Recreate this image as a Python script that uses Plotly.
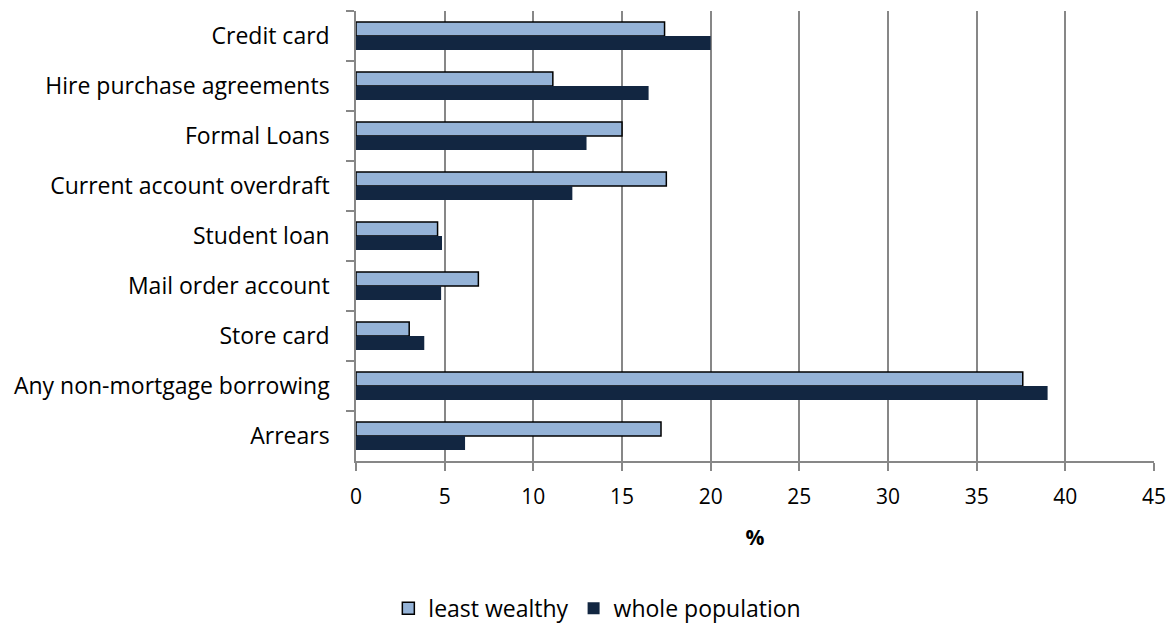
import plotly.graph_objects as go

categories = ["Credit card", "Hire purchase agreements", "Formal Loans",
              "Current account overdraft", "Student loan", "Mail order account",
              "Store card", "Any non-mortgage borrowing", "Arrears"]
least_wealthy = [17.4, 11.1, 15.0, 17.5, 4.6, 6.9, 3.0, 37.6, 17.2]
whole_population = [20.0, 16.5, 13.0, 12.2, 4.85, 4.8, 3.85, 39.0, 6.15]
x_ticks = [0, 5, 10, 15, 20, 25, 30, 35, 40, 45]

FONT = "Open Sans"
GRID = "#878787"

fig = go.Figure()
fig.add_trace(go.Bar(
    y=categories, x=least_wealthy, orientation="h", name="least wealthy",
    marker=dict(color="#95B3D7", line=dict(color="black", width=1.5)),
))
fig.add_trace(go.Bar(
    y=categories, x=whole_population, orientation="h", name="whole population",
    marker=dict(color="#122641", line=dict(width=0)),
))

# page body has an 8px margin, so the figure is 8px smaller than the window
fig.update_layout(
    width=1167, height=615,
    margin=dict(l=348, r=21, t=3, b=162, autoexpand=False),
    paper_bgcolor="white", plot_bgcolor="white",
    font=dict(family=FONT, size=22, color="black"),
    barmode="group", bargap=0.44, bargroupgap=0,
    legend=dict(orientation="h", xref="container", x=0.505, xanchor="center",
                yref="container", y=0.024, yanchor="middle",
                font=dict(size=23), itemwidth=30, traceorder="normal"),
)
fig.update_xaxes(
    range=[0, 45], tickvals=x_ticks, showgrid=True, gridcolor=GRID, gridwidth=1.5,
    showline=True, linecolor=GRID, linewidth=1.5, zeroline=False,
    ticks="outside", ticklen=8, tickcolor=GRID, tickwidth=1.5, ticklabelstandoff=8,
    tickfont=dict(size=21),
    title=dict(text="<b>%</b>", standoff=21, font=dict(size=21)),
)
fig.update_yaxes(
    autorange="reversed", showline=True, linecolor=GRID, linewidth=1.5,
    ticks="outside", tickson="boundaries", ticklen=8, tickcolor=GRID, tickwidth=1.5,
    ticklabelstandoff=20, showgrid=False, tickfont=dict(size=23),
)

fig.write_html("out.html")
